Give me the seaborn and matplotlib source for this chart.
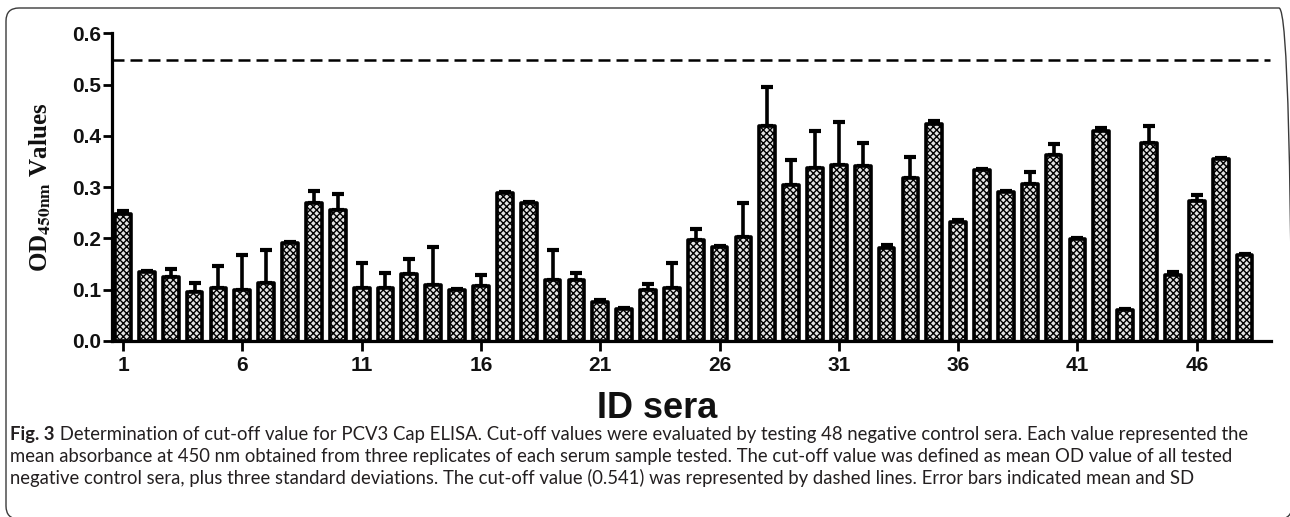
import numpy as np
import pandas as pd
import matplotlib
matplotlib.use("Agg")
import matplotlib.pyplot as plt
import seaborn as sns
from matplotlib.patches import FancyBboxPatch
from matplotlib import font_manager

# ---------------- data ----------------
sera_ids = [str(i) for i in range(1, 49)]
od_means = [0.248, 0.134, 0.124, 0.095, 0.104, 0.100, 0.114, 0.191, 0.270, 0.255,
            0.103, 0.104, 0.130, 0.109, 0.099, 0.107, 0.289, 0.269, 0.118, 0.119,
            0.076, 0.062, 0.100, 0.104, 0.196, 0.184, 0.202, 0.419, 0.305, 0.338,
            0.343, 0.341, 0.182, 0.317, 0.424, 0.232, 0.334, 0.290, 0.306, 0.363,
            0.199, 0.410, 0.061, 0.386, 0.129, 0.273, 0.354, 0.167]
od_sds = [0.005, 0.002, 0.016, 0.019, 0.042, 0.068, 0.063, 0.002, 0.023, 0.031,
          0.050, 0.028, 0.029, 0.075, 0.002, 0.022, 0.002, 0.002, 0.059, 0.013,
          0.003, 0.002, 0.011, 0.049, 0.023, 0.002, 0.067, 0.077, 0.048, 0.071,
          0.085, 0.046, 0.005, 0.041, 0.005, 0.003, 0.002, 0.002, 0.024, 0.022,
          0.002, 0.006, 0.002, 0.033, 0.006, 0.011, 0.002, 0.002]
tick_labels = ["1", "6", "11", "16", "21", "26", "31", "36", "41", "46"]
cutoff = 0.548
y_ticks = [0.0, 0.1, 0.2, 0.3, 0.4, 0.5, 0.6]

caption_bold = "Fig. 3"
caption_lines = [
    " Determination of cut-off value for PCV3 Cap ELISA. Cut-off values were evaluated by testing 48 negative control sera. Each value represented the",
    "mean absorbance at 450 nm obtained from three replicates of each serum sample tested. The cut-off value was defined as mean OD value of all tested",
    "negative control sera, plus three standard deviations. The cut-off value (0.541) was represented by dashed lines. Error bars indicated mean and SD",
]

df = pd.DataFrame({"ID": sera_ids, "OD": od_means, "SD": od_sds})

# ---------------- style ----------------
sns.set_style("ticks")
plt.rcParams["font.family"] = ["Liberation Sans", "DejaVu Sans"]
plt.rcParams["hatch.linewidth"] = 1.0
plt.rcParams["mathtext.fontset"] = "stix"

W, H = 1290, 517
fig = plt.figure(figsize=(W / 100, H / 100), dpi=100)

ax_l, ax_r, ax_t, ax_b = 111.7, 1271, 33.3, 341
ax = fig.add_axes([ax_l / W, 1 - ax_b / H, (ax_r - ax_l) / W, (ax_b - ax_t) / H])

sns.barplot(data=df, x="ID", y="OD", order=sera_ids, color="#e2e2e2", saturation=1,
            edgecolor="black", linewidth=2.6, width=0.66, hatch="xxxxx",
            errorbar=None, ax=ax, zorder=3)
for p in ax.patches:
    p.set_joinstyle("round")

xpos = np.arange(len(sera_ids))
ax.errorbar(xpos, df["OD"], yerr=[np.zeros(len(xpos)), df["SD"]], fmt="none",
            ecolor="black", elinewidth=2.6, capsize=4.6, capthick=3.0, zorder=2)

ax.axhline(cutoff, xmin=0, xmax=0.999, color="black", lw=1.8, dashes=(4.8, 2.4), zorder=1)

ax.set_xlim(-0.474, 48.11)
ax.set_ylim(0, 0.6)
ax.set_yticks(y_ticks)
ax.set_yticklabels([f"{v:.1f}" for v in y_ticks], fontsize=15, fontweight="bold")
ax.set_xticks(range(0, 48, 5))
ax.set_xticklabels(tick_labels, fontsize=15, fontweight="bold")
ax.tick_params(axis="y", length=6.5, width=2.0, pad=1, color="black", labelcolor="#111111")
ax.tick_params(axis="x", length=7.5, width=2.0, pad=3, color="black", labelcolor="#111111")
ax.set_xlabel("")
ax.set_ylabel("")
for s in ["top", "right"]:
    ax.spines[s].set_visible(False)
for s in ["left", "bottom"]:
    ax.spines[s].set_linewidth(2.3)
    ax.spines[s].set_color("black")
    ax.spines[s].set_zorder(5)

# axis titles
fig.text(657 / W, 1 - 409 / H, "ID sera", fontsize=26, fontweight="bold",
         ha="center", va="center", color="#111111")
fig.text(40 / W, 1 - 187 / H, r"OD$_{\mathbf{450nm}}$ Values", fontsize=18,
         fontweight="bold", family="Liberation Serif", rotation=90,
         ha="center", va="center", color="#111111")

# caption
names = {f.name for f in font_manager.fontManager.ttflist}
cap_family = "Liberation Sans Narrow" if "Liberation Sans Narrow" in names else "Lato"
fig.canvas.draw()
rend = fig.canvas.get_renderer()
p1 = fig.text(0, 0, caption_bold, fontsize=10, family=cap_family, fontweight="bold")
p2 = fig.text(0, 0, caption_lines[0], fontsize=10, family=cap_family)
total = p1.get_window_extent(rend).width + p2.get_window_extent(rend).width
p1.remove()
p2.remove()
size = 10 * (1238 / total)

x0 = 10
baselines = [440, 462, 484]
cap_color = "#231f20"
tb = fig.text(x0 / W, 1 - baselines[0] / H, caption_bold, fontsize=size, family=cap_family,
              fontweight="bold", color=cap_color, va="baseline")
fig.canvas.draw()
wb = tb.get_window_extent(fig.canvas.get_renderer()).width
fig.text((x0 + wb) / W, 1 - baselines[0] / H, caption_lines[0], fontsize=size,
         family=cap_family, color=cap_color, va="baseline")
for line, bl in zip(caption_lines[1:], baselines[1:]):
    fig.text(x0 / W, 1 - bl / H, line, fontsize=size, family=cap_family,
             color=cap_color, va="baseline")

# rounded frame (right and bottom edges fall just outside the picture)
frame = FancyBboxPatch((6 / 100, (H - 519) / 100), (1292 - 6) / 100, (519 - 8) / 100,
                       boxstyle="round,pad=0,rounding_size=0.13",
                       transform=fig.dpi_scale_trans, fill=False,
                       edgecolor="#3a3a3a", linewidth=1.0)
fig.patches.append(frame)

fig.savefig("out.png", dpi=100)
